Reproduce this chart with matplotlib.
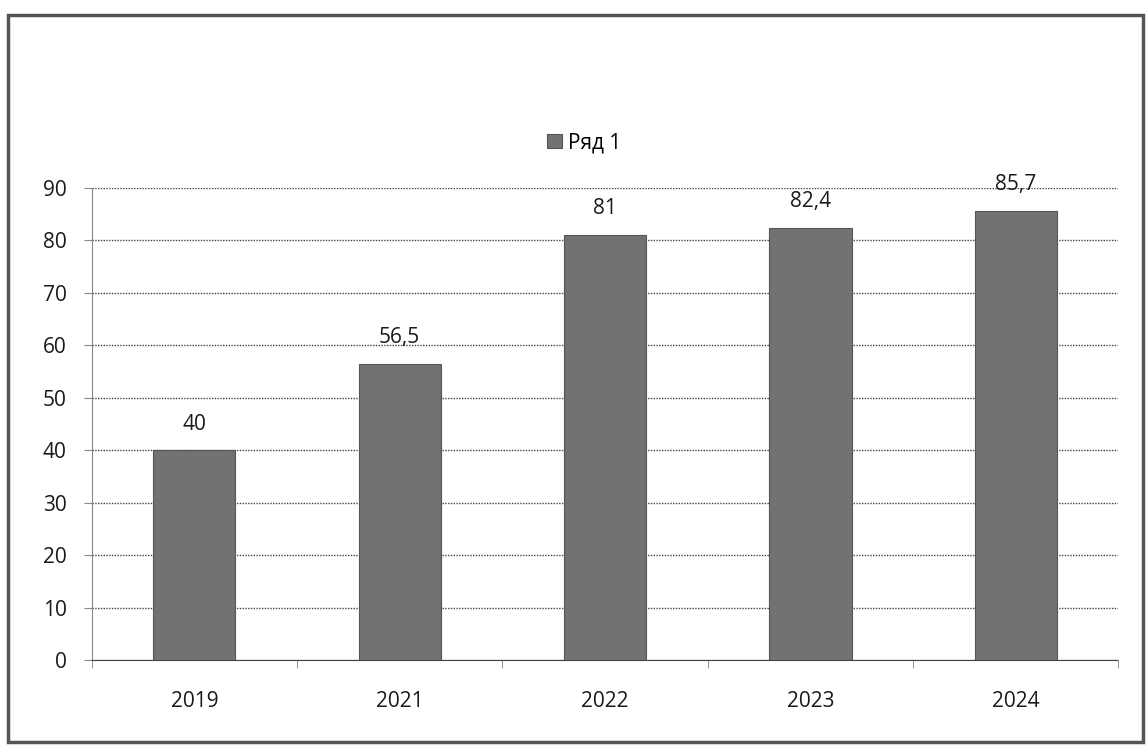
import matplotlib.pyplot as plt
from matplotlib.patches import Rectangle

years = ['2019', '2021', '2022', '2023', '2024']
values = [40, 56.5, 81, 82.4, 85.7]
value_labels = ['40', '56,5', '81', '82,4', '85,7']
series_name = 'Ряд 1'

plt.rcParams['font.family'] = ['Open Sans', 'DejaVu Sans']

fig = plt.figure(figsize=(11.46, 7.52), dpi=100)
# outer frame of the chart
fig.patches.append(Rectangle((0.007, 0.013), 0.99, 0.967, transform=fig.transFigure,
                             fill=False, edgecolor='#555555', linewidth=2.5))

ax = fig.add_axes([0.080, 0.122, 0.896, 0.628])
x = list(range(len(years)))
bars = ax.bar(x, values, width=0.4, color='#727272', edgecolor='#555555',
              linewidth=0.8, label=series_name, zorder=3)

for xi, v, lab in zip(x, values, value_labels):
    ax.text(xi, v + 3, lab, ha='center', va='bottom', fontsize=15, color='#1a1a1a')

ax.set_xlim(-0.5, len(years) - 0.5)
ax.set_ylim(0, 90)
ax.set_yticks(range(0, 91, 10))
ax.set_xticks(x)
ax.set_xticklabels(years)
ax.set_xticks([i + 0.5 for i in range(-1, len(years))], minor=True)
ax.tick_params(axis='x', which='major', length=0, pad=22, labelsize=15, labelcolor='#1a1a1a')
ax.tick_params(axis='x', which='minor', length=6, color='#888888')
ax.tick_params(axis='y', length=6, color='#888888', pad=12, labelsize=15, labelcolor='#1a1a1a')
ax.grid(axis='y', linestyle=(0, (1, 1)), color='#444444', linewidth=1, zorder=0)

for s in ['top', 'right']:
    ax.spines[s].set_visible(False)
ax.spines['left'].set_color('#888888')
ax.spines['left'].set_linestyle((0, (1, 1)))
ax.spines['bottom'].set_color('#444444')
ax.spines['bottom'].set_linestyle((0, (1, 1)))

fig.legend(loc='center', bbox_to_anchor=(0.51, 0.81), frameon=False, fontsize=15,
           handlelength=0.7, handleheight=0.7, handletextpad=0.3)

fig.savefig('out.png', dpi=100)
